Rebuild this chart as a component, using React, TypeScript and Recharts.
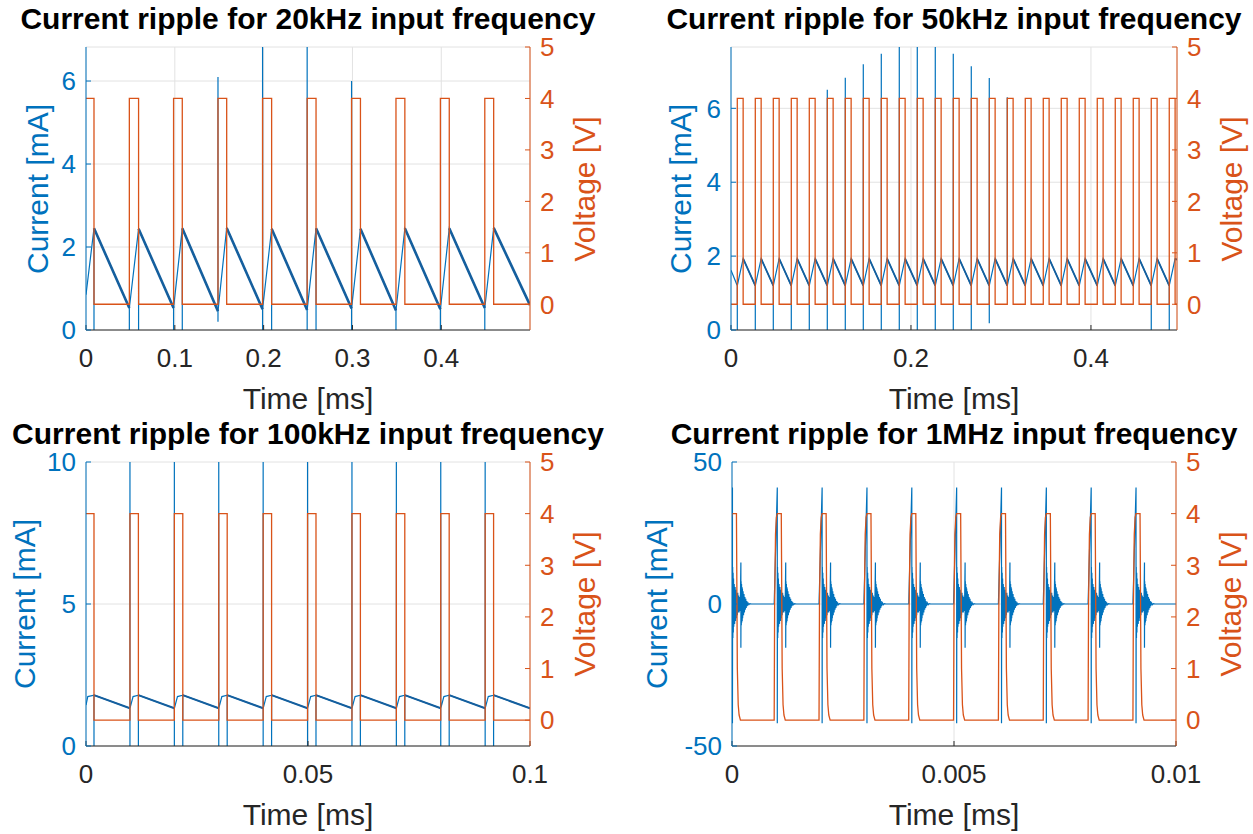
import React from 'react';
import { LineChart, Line, XAxis, YAxis, CartesianGrid } from 'recharts';

const BLUE = '#0072BD';
const RAMP = '#155f9e';
const ORANGE = '#D95319';
const AXIS = '#262626';
const GRID = '#e2e2e2';
const FONT = "'Liberation Sans', Arial, Helvetica, sans-serif";

const V_HIGH = 4;
const V_LOW = 0;
const vTicks = [0, 1, 2, 3, 4, 5];

// 20 kHz: pulse edges [ms] and current levels [mA]
const p1Rise = [0.0488, 0.0986, 0.1486, 0.1988, 0.249, 0.299, 0.349, 0.399, 0.449];
const p1Fall = [0.009, 0.0592, 0.1084, 0.1584, 0.209, 0.259, 0.309, 0.359, 0.409, 0.459];
const p1Peak = [2.45, 2.44, 2.45, 2.46, 2.44, 2.45, 2.44, 2.45, 2.45, 2.46];
const p1Trough = [0.53, 0.53, 0.45, 0.5, 0.48, 0.52, 0.47, 0.5, 0.53];
const p1RiseHigh = [null, null, 6.1, 7.5, 7.5, 6.0, null, null, null];
const p1RiseLow = [-0.5, -0.5, 0.2, -0.5, -0.5, -0.5, -0.5, -0.5, -0.5];
const p1FallLow = [-0.5, -0.5, -0.5, null, -0.5, -0.5, null, null, null, null];

// 50 kHz
const p2Rise = [0.007, 0.027, 0.047, 0.067, 0.087, 0.107, 0.127, 0.147, 0.167, 0.187, 0.207, 0.227, 0.247,
  0.267, 0.287, 0.307, 0.327, 0.347, 0.367, 0.387, 0.407, 0.427, 0.447, 0.467, 0.487];
const p2Fall = [0.0135, 0.0335, 0.0535, 0.0735, 0.0935, 0.1135, 0.1335, 0.1535, 0.1735, 0.1935, 0.2135, 0.2335,
  0.2535, 0.2735, 0.2935, 0.3135, 0.3335, 0.3535, 0.3735, 0.3935, 0.4135, 0.4335, 0.4535, 0.4735, 0.4935];
const p2Peak = [1.93, 1.93, 1.93, 1.93, 1.93, 1.93, 1.93, 1.93, 1.93, 1.93, 1.93, 1.93, 1.93,
  1.93, 1.93, 1.93, 1.93, 1.93, 1.93, 1.93, 1.93, 1.93, 1.93, 1.93, 1.93];
const p2Trough = [1.2, 1.2, 1.2, 1.2, 1.2, 1.2, 1.2, 1.2, 1.2, 1.2, 1.2, 1.2, 1.2,
  1.2, 1.2, 1.2, 1.2, 1.2, 1.2, 1.2, 1.2, 1.2, 1.2, 1.2, 1.2];
const p2RiseHigh = [null, null, null, null, null, 6.5, 6.83, 7.19, 7.48, 8.5, 8.5, 8.5, 7.48,
  7.14, 6.82, 6.3, null, null, null, null, null, null, null, null, null];
const p2RiseLow = [-0.5, -0.5, -0.5, -0.5, -0.5, -0.5, -0.5, -0.5, -0.5, -0.5, -0.5, -0.5, -0.5,
  -0.5, 0.18, null, null, null, null, null, null, null, null, -0.5, -0.5];

// 100 kHz
const p3Rise = [0.0099, 0.0199, 0.0299, 0.0399, 0.0499, 0.0599, 0.0699, 0.0799, 0.0899];
const p3Fall = [0.0018, 0.0118, 0.0218, 0.0318, 0.0418, 0.0518, 0.0618, 0.0718, 0.0818, 0.0918];
const p3Knee = [0.0004, 0.0106, 0.0206, 0.0306, 0.0406, 0.0506, 0.0606, 0.0706, 0.0806, 0.0906];
const p3KneeVal = [1.74, 1.74, 1.74, 1.74, 1.74, 1.74, 1.74, 1.74, 1.74, 1.74];
const p3Peak = [1.79, 1.79, 1.79, 1.79, 1.79, 1.79, 1.79, 1.79, 1.79, 1.79];
const p3Trough = [1.33, 1.33, 1.33, 1.33, 1.33, 1.33, 1.33, 1.33, 1.33];
const p3RiseHigh = [11, 11, 11, 11, 11, 11, 11, 11, 11];
const p3RiseLow = [-1, -1, -1, -1, -1, -1, -1, -1, -1];
const p3FallLow = [-1, -1, -1, -1, -1, -1, -1, -1, -1, -1];

// 1 MHz: pulse starts and one pulse shape (offset from start)
const p4Rise = [-0.00006, 0.00095, 0.00196, 0.00297, 0.00398, 0.00499, 0.006, 0.00701, 0.00802, 0.00903];
const vShapeDt = [0, 0.00001, 0.00003, 0.00005, 0.00007, 0.00016, 0.00018, 0.0002, 0.00022, 0.00025];
const vShapeV = [0, 2.2, 3.6, 3.93, 4.0, 4.0, 1.0, 0.3, 0.1, 0];
const iShapeDt = [0, 0.00007, 0.00007, 0.000075, 0.00008, 0.000085, 0.00009, 0.000095, 0.0001, 0.00011,
  0.00012, 0.00013, 0.00014, 0.00015, 0.00016, 0.00017, 0.00018, 0.00019, 0.0002, 0.00021, 0.00022,
  0.00023, 0.00024, 0.00025, 0.00026, 0.00026, 0.000265, 0.00027, 0.000275, 0.00028, 0.000285, 0.00029,
  0.000295, 0.0003, 0.00031, 0.00032, 0.00033, 0.00034, 0.00035, 0.00036, 0.00037, 0.00038, 0.00039,
  0.0004, 0.00042, 0.00044, 0.00046, 0.0005];
const iShapeI = [0, 41, -42, 13, -12, 11, -10, 9, -8, 7, -7, 6, -6, 5, -5, 4, -4, 4, -3, 3, -3, 2.5, -2.5, 2,
  14.6, -15.4, 8, -7.5, 7, -6.5, 6, -6, 5.5, -5, 4.5, -4, 3.5, -3, 2.5, -2, 1.8, -1.4, 1, -0.7, 0.4, -0.25,
  0.1, 0];

type Pt = { t: number; i?: number | null; v?: number | null };
type Saw = {
  rise: number[]; fall: number[]; peak: number[]; trough: number[];
  riseHigh: (number | null)[]; riseLow: (number | null)[]; fallLow?: (number | null)[];
  knee?: number[]; kneeVal?: number[]; start: number; end: number; xMax: number;
};

function edges(rise: number[], fall: number[]) {
  return [
    ...rise.map((t, k) => ({ t, k, up: true })),
    ...fall.map((t, k) => ({ t, k, up: false })),
  ].sort((a, b) => a.t - b.t);
}

function sawCurrent(s: Saw): Pt[] {
  const pts: Pt[] = [{ t: 0, i: s.start }];
  for (const e of edges(s.rise, s.fall)) {
    if (e.up) {
      const base = s.trough[e.k];
      pts.push({ t: e.t, i: base });
      if (s.riseHigh[e.k] != null) pts.push({ t: e.t, i: s.riseHigh[e.k] });
      if (s.riseLow[e.k] != null) pts.push({ t: e.t, i: s.riseLow[e.k] });
      pts.push({ t: e.t, i: base });
    } else {
      if (s.knee && s.kneeVal) pts.push({ t: s.knee[e.k], i: s.kneeVal[e.k] });
      const top = s.peak[e.k];
      pts.push({ t: e.t, i: top });
      const low = s.fallLow ? s.fallLow[e.k] : null;
      if (low != null) pts.push({ t: e.t, i: low }, { t: e.t, i: top });
    }
  }
  pts.push({ t: s.xMax, i: s.end });
  return pts;
}

// the falling ramps between pulses (drawn a bit heavier, as in the plot)
function sawRamps(s: Saw): Pt[] {
  const ev = edges(s.rise, s.fall);
  const pts: Pt[] = [];
  ev.forEach((e, n) => {
    if (e.up) return;
    const next = ev.slice(n + 1).find((x) => x.up);
    const endT = next ? next.t : s.xMax;
    const endI = next ? s.trough[next.k] : s.end;
    pts.push({ t: e.t, i: s.peak[e.k] }, { t: endT, i: endI }, { t: endT, i: null });
  });
  return pts;
}

function squareVoltage(rise: number[], fall: number[], xMax: number, startHigh: boolean): Pt[] {
  const pts: Pt[] = [{ t: 0, v: startHigh ? V_HIGH : V_LOW }];
  for (const e of edges(rise, fall)) {
    if (e.up) pts.push({ t: e.t, v: V_LOW }, { t: e.t, v: V_HIGH });
    else pts.push({ t: e.t, v: V_HIGH }, { t: e.t, v: V_LOW });
  }
  pts.push({ t: xMax, v: V_LOW });
  return pts;
}

function pulseTrain(rise: number[], dt: number[], val: number[], key: 'i' | 'v', xMax: number): Pt[] {
  const pts: Pt[] = [];
  rise.forEach((r) => dt.forEach((d, n) => pts.push({ t: r + d, [key]: val[n] })));
  pts.push({ t: xMax, [key]: 0 });
  return pts;
}

const saw1: Saw = { rise: p1Rise, fall: p1Fall, peak: p1Peak, trough: p1Trough, riseHigh: p1RiseHigh,
  riseLow: p1RiseLow, fallLow: p1FallLow, start: 0.85, end: 0.6, xMax: 0.4999 };
const saw2: Saw = { rise: p2Rise, fall: p2Fall, peak: p2Peak, trough: p2Trough, riseHigh: p2RiseHigh,
  riseLow: p2RiseLow, start: 1.62, end: 1.9, xMax: 0.4956 };
const saw3: Saw = { rise: p3Rise, fall: p3Fall, peak: p3Peak, trough: p3Trough, riseHigh: p3RiseHigh,
  riseLow: p3RiseLow, fallLow: p3FallLow, knee: p3Knee, kneeVal: p3KneeVal, start: 1.44, end: 1.33, xMax: 0.1 };

type PanelCfg = {
  title: string; L: number; R: number; T: number; B: number; xMax: number; xTicks: number[];
  iDomain: [number, number]; iTicks: number[]; current: Pt[]; ramps?: Pt[]; rampWidth?: number;
  voltage: Pt[]; iLabelX: number;
};

const panels: PanelCfg[] = [
  { title: 'Current ripple for 20kHz input frequency', L: 86, R: 530, T: 47, B: 330, xMax: 0.4999,
    xTicks: [0, 0.1, 0.2, 0.3, 0.4], iDomain: [0, 6.82], iTicks: [0, 2, 4, 6], iLabelX: 38,
    current: sawCurrent(saw1), ramps: sawRamps(saw1), rampWidth: 2.6,
    voltage: squareVoltage(p1Rise, p1Fall, 0.4999, true) },
  { title: 'Current ripple for 50kHz input frequency', L: 731, R: 1177, T: 47, B: 330, xMax: 0.4956,
    xTicks: [0, 0.2, 0.4], iDomain: [0, 7.66], iTicks: [0, 2, 4, 6], iLabelX: 681,
    current: sawCurrent(saw2), ramps: sawRamps(saw2), rampWidth: 1.8,
    voltage: squareVoltage(p2Rise, p2Fall, 0.4956, false) },
  { title: 'Current ripple for 100kHz input frequency', L: 86, R: 530, T: 462, B: 746, xMax: 0.1,
    xTicks: [0, 0.05, 0.1], iDomain: [0, 10], iTicks: [0, 5, 10], iLabelX: 25,
    current: sawCurrent(saw3), ramps: sawRamps(saw3), rampWidth: 2,
    voltage: squareVoltage(p3Rise, p3Fall, 0.1, true) },
  { title: 'Current ripple for 1MHz input frequency', L: 732, R: 1176, T: 462, B: 746, xMax: 0.01,
    xTicks: [0, 0.005, 0.01], iDomain: [-50, 50], iTicks: [-50, 0, 50], iLabelX: 657,
    current: pulseTrain(p4Rise, iShapeDt, iShapeI, 'i', 0.01),
    voltage: pulseTrain(p4Rise, vShapeDt, vShapeV, 'v', 0.01) },
];

function Txt({ x, y, size, color, bold, rotate, children }: any) {
  return (
    <div style={{
      position: 'absolute', left: x, top: y, fontSize: size, color, fontWeight: bold ? 700 : 400,
      transform: `translate(-50%, -50%)${rotate ? ' rotate(-90deg)' : ''}`,
      whiteSpace: 'nowrap', lineHeight: 1, fontFamily: FONT,
    }}>{children}</div>
  );
}

function Panel({ p }: { p: PanelCfg }) {
  const padL = 70, padR = 50, padT = 20, padB = 50;
  const w = p.R - p.L + padL + padR;
  const h = p.B - p.T + padT + padB;
  const cx = (p.L + p.R) / 2;
  const cy = (p.T + p.B) / 2;
  const tickFont = { fontSize: 26, fontFamily: FONT };
  return (
    <>
      <div style={{ position: 'absolute', left: p.L - padL, top: p.T - padT }}>
        <LineChart width={w} height={h} margin={{ top: padT, right: 10, bottom: 10, left: 10 }}>
          <CartesianGrid yAxisId="i" stroke={GRID} strokeWidth={1} />
          <XAxis dataKey="t" type="number" domain={[0, p.xMax]} ticks={p.xTicks} interval={0} allowDataOverflow
            height={40} stroke={AXIS} tickSize={-5} tickMargin={24} tick={{ ...tickFont, fill: AXIS }} />
          <XAxis xAxisId="top" orientation="top" dataKey="t" type="number" domain={[0, p.xMax]} ticks={p.xTicks}
            interval={0} allowDataOverflow height={0} stroke={AXIS} tickSize={-5} tick={false} />
          <YAxis yAxisId="i" domain={p.iDomain} ticks={p.iTicks} interval={0} allowDataOverflow width={60}
            stroke={BLUE} tickSize={-5} tickMargin={15} tick={{ ...tickFont, fill: BLUE }} />
          <YAxis yAxisId="v" orientation="right" domain={[-0.5, 5]} ticks={vTicks} interval={0} allowDataOverflow
            width={40} stroke={ORANGE} tickSize={-5} tickMargin={15} tick={{ ...tickFont, fill: ORANGE }} />
          <Line data={p.current} dataKey="i" yAxisId="i" type="linear" stroke={BLUE} strokeWidth={1.2}
            dot={false} activeDot={false} isAnimationActive={false} />
          {p.ramps && (
            <Line data={p.ramps} dataKey="i" yAxisId="i" type="linear" stroke={RAMP} strokeWidth={p.rampWidth}
              dot={false} activeDot={false} isAnimationActive={false} />
          )}
          <Line data={p.voltage} dataKey="v" yAxisId="v" type="linear" stroke={ORANGE} strokeWidth={1.3}
            dot={false} activeDot={false} isAnimationActive={false} />
        </LineChart>
      </div>
      <Txt x={cx} y={p.T - 28} size={30} color="#000" bold>{p.title}</Txt>
      <Txt x={p.iLabelX} y={cy} size={30} color={BLUE} rotate>Current [mA]</Txt>
      <Txt x={p.R + 55} y={cy} size={30} color={ORANGE} rotate>Voltage [V]</Txt>
      <Txt x={cx} y={p.B + 69} size={30} color={AXIS}>Time [ms]</Txt>
    </>
  );
}

export default function App() {
  return (
    <div style={{ position: 'absolute', left: 0, top: 0, width: 1253, height: 834, background: '#fff',
      overflow: 'hidden', fontFamily: FONT }}>
      {panels.map((p) => <Panel key={p.title} p={p} />)}
    </div>
  );
}
